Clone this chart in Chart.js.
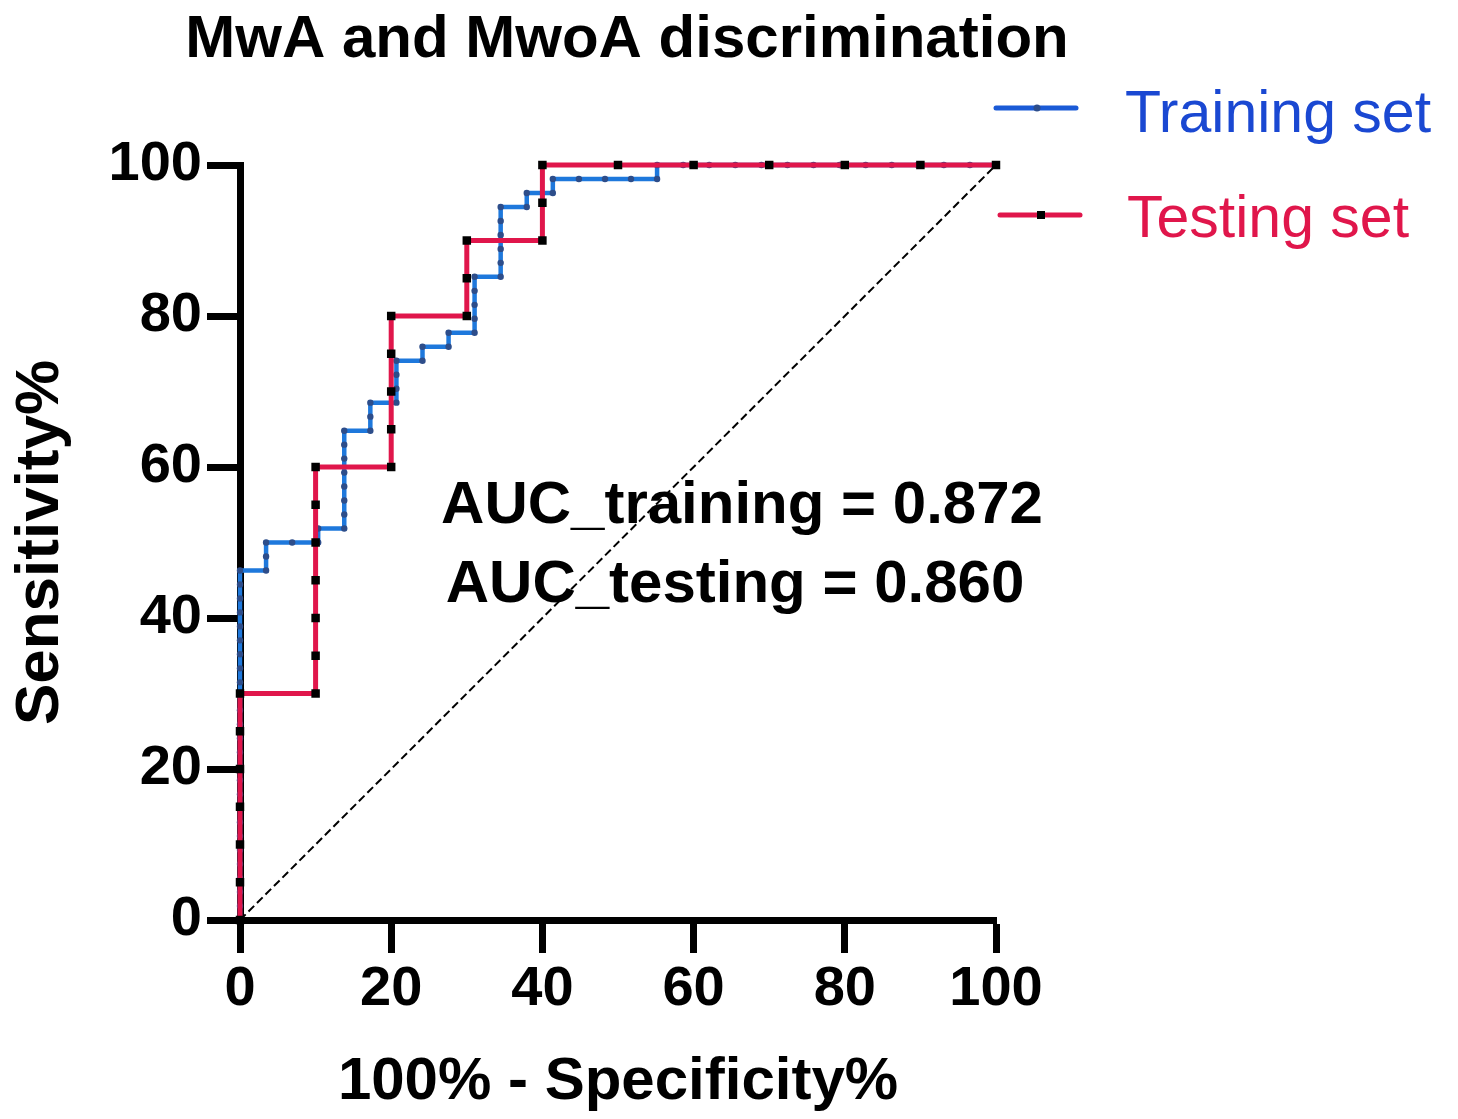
<!DOCTYPE html>
<html>
<head>
<meta charset="utf-8">
<title>MwA and MwoA discrimination</title>
<script src="https://cdn.jsdelivr.net/npm/chart.js@4.4.1/dist/chart.umd.min.js"></script>
<style>
  html, body { margin: 0; padding: 0; background: #ffffff; }
  #rocChart { display: block; }
</style>
</head>
<body>
<canvas id="rocChart" width="1458" height="1119"></canvas>
<script>
// ROC data (100% - specificity %, sensitivity %)
const trainX = [
    0, 0, 0, 0, 0, 0, 0, 0, 0, 0, 0, 0, 0, 0, 0, 0, 0, 0, 0, 0, 0, 0, 0, 0, 0, 0,
    3.45, 3.45, 3.45,
    6.90, 10.34, 10.34,
    13.79, 13.79, 13.79, 13.79, 13.79, 13.79, 13.79, 13.79,
    17.24, 17.24, 17.24,
    20.69, 20.69, 20.69, 20.69,
    24.14, 24.14,
    27.59, 27.59,
    31.03, 31.03, 31.03, 31.03, 31.03,
    34.48, 34.48, 34.48, 34.48, 34.48, 34.48,
    37.93, 37.93,
    41.38, 41.38,
    44.83, 48.28, 51.72, 55.17, 55.17,
    58.62, 62.07, 65.52, 68.97, 72.41, 75.86, 79.31, 82.76, 86.21, 89.66, 93.10, 96.55, 100
];
const trainY = [
    0, 1.85, 3.70, 5.56, 7.41, 9.26, 11.11, 12.96, 14.81, 16.67, 18.52, 20.37, 22.22,
    24.07, 25.93, 27.78, 29.63, 31.48, 33.33, 35.19, 37.04, 38.89, 40.74, 42.59, 44.44, 46.30,
    46.30, 48.15, 50.00,
    50.00, 50.00, 51.85,
    51.85, 53.70, 55.56, 57.41, 59.26, 61.11, 62.96, 64.81,
    64.81, 66.67, 68.52,
    68.52, 70.37, 72.22, 74.07,
    74.07, 75.93,
    75.93, 77.78,
    77.78, 79.63, 81.48, 83.33, 85.19,
    85.19, 87.04, 88.89, 90.74, 92.59, 94.44,
    94.44, 96.30,
    96.30, 98.15,
    98.15, 98.15, 98.15, 98.15, 100,
    100, 100, 100, 100, 100, 100, 100, 100, 100, 100, 100, 100, 100
];
const testX = [
    0, 0, 0, 0, 0, 0, 0,
    10, 10, 10, 10, 10, 10, 10,
    20, 20, 20, 20, 20,
    30, 30, 30,
    40, 40, 40,
    50, 60, 70, 80, 90, 100
];
const testY = [
    0, 5, 10, 15, 20, 25, 30,
    30, 35, 40, 45, 50, 55, 60,
    60, 65, 70, 75, 80,
    80, 85, 90,
    90, 95, 100,
    100, 100, 100, 100, 100, 100
];
const refX = [0, 100];
const refY = [0, 100];
const axisTicks = [0, 20, 40, 60, 80, 100];
const aucLabels = ['AUC_training = 0.872', 'AUC_testing = 0.860'];
const seriesNames = ['Training set', 'Testing set'];

const FONT = '"Liberation Sans", Arial, Helvetica, sans-serif';
const BLUE = '#1e78dc';
const BLUE_DOT = '#2d4d8a';
const BLUE_TEXT = '#1a48d2';
const RED = '#e0164b';

const toPoints = (xs, ys) => xs.map((x, i) => ({ x: x, y: ys[i] }));

// title, legend and AUC text drawn straight onto the canvas
const extrasPlugin = {
    id: 'extras',
    afterDraw(chart) {
        const ctx = chart.ctx;
        ctx.save();
        ctx.fillStyle = '#000';
        ctx.textAlign = 'center';
        ctx.textBaseline = 'alphabetic';
        ctx.font = 'bold 60px ' + FONT;
        ctx.fillText('MwA and MwoA discrimination', 627, 57);
        ctx.fillText(aucLabels[0], 742, 523);
        ctx.fillText(aucLabels[1], 735, 602);

        // legend
        ctx.lineCap = 'round';
        ctx.lineWidth = 5;
        ctx.strokeStyle = '#1a5ad6';
        ctx.beginPath();
        ctx.moveTo(996, 108);
        ctx.lineTo(1076, 108);
        ctx.stroke();
        ctx.fillStyle = BLUE_DOT;
        ctx.beginPath();
        ctx.arc(1037, 108, 3.5, 0, Math.PI * 2);
        ctx.fill();

        ctx.strokeStyle = RED;
        ctx.beginPath();
        ctx.moveTo(1000, 215);
        ctx.lineTo(1080, 215);
        ctx.stroke();
        ctx.fillStyle = '#000';
        ctx.fillRect(1037, 211, 8, 8);

        ctx.textAlign = 'left';
        ctx.font = '59px ' + FONT;
        ctx.fillStyle = BLUE_TEXT;
        ctx.fillText(seriesNames[0], 1125, 132);
        ctx.fillStyle = RED;
        ctx.fillText(seriesNames[1], 1127, 237);
        ctx.restore();
    }
};

const tickFont = { family: FONT, size: 56, weight: 'bold' };

const ctxRoc = document.getElementById('rocChart').getContext('2d');
const rocChart = new Chart(ctxRoc, {
    type: 'scatter',
    data: {
        datasets: [
            {
                label: seriesNames[1],
                data: toPoints(testX, testY),
                showLine: true,
                borderColor: RED,
                borderWidth: 5,
                pointStyle: 'rect',
                pointRadius: 6,
                pointBackgroundColor: '#000',
                pointBorderWidth: 0,
                clip: false,
                order: 0
            },
            {
                label: seriesNames[0],
                data: toPoints(trainX, trainY),
                showLine: true,
                borderColor: BLUE,
                borderWidth: 4.5,
                pointRadius: 3.2,
                pointBackgroundColor: BLUE_DOT,
                pointBorderWidth: 0,
                clip: false,
                order: 1
            },
            {
                label: 'Reference',
                data: toPoints(refX, refY),
                showLine: true,
                borderColor: '#000',
                borderWidth: 2,
                borderDash: [8, 4],
                pointRadius: 0,
                clip: false,
                order: 2
            }
        ]
    },
    options: {
        responsive: false,
        animation: false,
        devicePixelRatio: 1,
        layout: { padding: { left: 0, top: 165, right: 462, bottom: 0 } },
        plugins: {
            legend: { display: false },
            title: { display: false },
            tooltip: { enabled: false }
        },
        scales: {
            x: {
                type: 'linear',
                min: 0,
                max: 100,
                afterFit: (scale) => { scale.height = 199; },
                afterBuildTicks: (scale) => { scale.ticks = axisTicks.map(v => ({ value: v })); },
                border: { display: true, color: '#000', width: 7 },
                grid: { display: true, drawOnChartArea: false, drawTicks: true, tickLength: 33, tickWidth: 7, tickColor: '#000' },
                ticks: { color: '#000', font: tickFont, padding: 3, maxRotation: 0 },
                title: {
                    display: true,
                    text: '100% - Specificity%',
                    color: '#000',
                    font: { family: FONT, size: 60, weight: 'bold' },
                    padding: { top: 0, bottom: 1 }
                }
            },
            y: {
                type: 'linear',
                min: 0,
                max: 100,
                afterFit: (scale) => { scale.width = 240; },
                afterBuildTicks: (scale) => { scale.ticks = axisTicks.map(v => ({ value: v })); },
                border: { display: true, color: '#000', width: 7 },
                grid: { display: true, drawOnChartArea: false, drawTicks: true, tickLength: 33, tickWidth: 7, tickColor: '#000' },
                ticks: { color: '#000', font: tickFont, padding: 5 },
                title: {
                    display: true,
                    text: 'Sensitivity%',
                    color: '#000',
                    font: { family: FONT, size: 62, weight: 'bold' },
                    padding: { top: 4, bottom: 0 }
                }
            }
        }
    },
    plugins: [extrasPlugin]
});
</script>
</body>
</html>
